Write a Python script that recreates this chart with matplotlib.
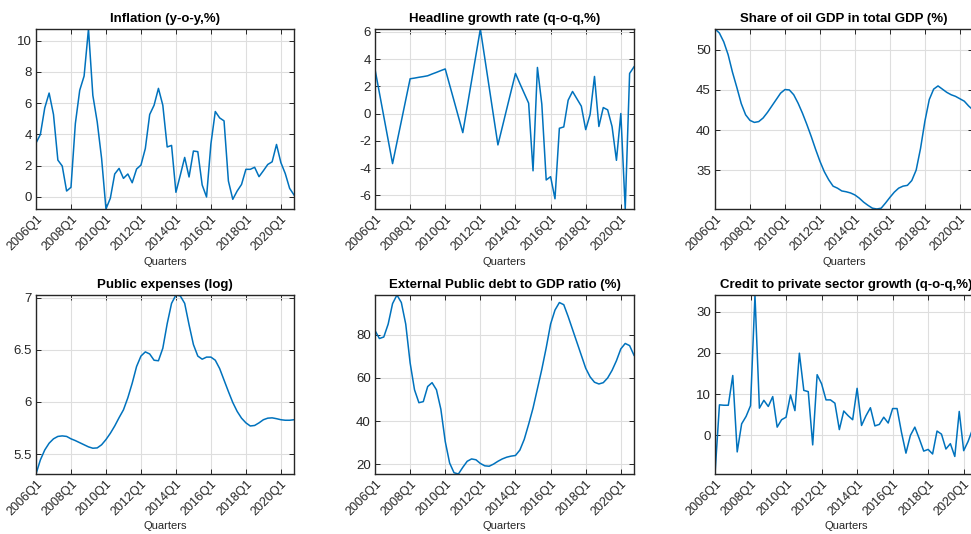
import matplotlib
matplotlib.use('Agg')
import matplotlib.pyplot as plt
from matplotlib.ticker import FuncFormatter
from matplotlib.transforms import ScaledTranslation

plt.rcParams['font.family'] = ['Liberation Sans', 'DejaVu Sans']

# ---- data ----
years = list(range(2006, 2021))
quarters = [f"{y}Q{q}" for y in years for q in (1, 2, 3, 4)]
tick_labels = ["2006Q1", "2008Q1", "2010Q1", "2012Q1", "2014Q1", "2016Q1", "2018Q1", "2020Q1"]

inflation = [3.45, 4.0, 5.7, 6.65, 5.28, 2.36, 1.98, 0.38, 0.62, 4.7,
             6.83, 7.74, 10.75, 6.5, 4.8, 2.47, -0.77, -0.08, 1.47, 1.83,
             1.19, 1.47, 0.91, 1.79, 2.04, 3.1, 5.28, 5.87, 6.95, 5.87,
             3.2, 3.3, 0.3, 1.4, 2.53, 1.28, 2.94, 2.9, 0.77, 0.0,
             3.4, 5.47, 5.06, 4.87, 1.02, -0.15, 0.38, 0.8, 1.77, 1.77,
             1.9, 1.3, 1.68, 2.08, 2.25, 3.36, 2.2, 1.5, 0.55, 0.13]

headline_growth = [3.25, 1.52, -0.21, -1.94, -3.67, -2.11, -0.56, 1.0, 2.55, 2.6,
                   2.66, 2.71, 2.77, 2.9, 3.02, 3.15, 3.27, 2.1, 0.94, -0.23,
                   -1.4, 0.5, 2.4, 4.3, 6.2, 4.08, 1.95, -0.18, -2.3, -0.99,
                   0.33, 1.64, 2.94, 2.2, 1.48, 0.76, -4.2, 3.38, 0.69, -4.87,
                   -4.63, -6.25, -1.08, -0.98, 0.98, 1.62, 1.08, 0.54, -1.18, -0.07,
                   2.72, -0.95, 0.44, 0.27, -0.95, -3.43, 0.0, -7.0, 2.94, 3.43]

oil_share = [52.6, 52.1, 51.0, 49.4, 47.2, 45.3, 43.3, 41.9, 41.2, 40.95,
             41.05, 41.5, 42.2, 43.0, 43.8, 44.6, 45.05, 45.0, 44.4, 43.35,
             42.1, 40.7, 39.2, 37.6, 36.1, 34.8, 33.8, 33.0, 32.75, 32.4,
             32.3, 32.15, 31.9, 31.5, 31.0, 30.6, 30.25, 30.15, 30.25, 30.9,
             31.6, 32.25, 32.75, 33.0, 33.1, 33.7, 35.0, 37.7, 41.1, 43.8,
             45.1, 45.5, 45.1, 44.7, 44.4, 44.2, 43.9, 43.6, 43.0, 42.5]

public_exp = [5.31, 5.445, 5.54, 5.605, 5.647, 5.67, 5.675, 5.67, 5.647, 5.63,
              5.61, 5.59, 5.57, 5.557, 5.56, 5.59, 5.64, 5.70, 5.77, 5.85,
              5.925, 6.04, 6.18, 6.34, 6.44, 6.48, 6.46, 6.40, 6.395, 6.515,
              6.75, 6.945, 7.025, 7.016, 6.945, 6.74, 6.55, 6.44, 6.41, 6.43,
              6.43, 6.40, 6.32, 6.21, 6.10, 5.995, 5.91, 5.845, 5.80, 5.77,
              5.775, 5.80, 5.83, 5.845, 5.848, 5.84, 5.83, 5.825, 5.825, 5.83]

ext_debt = [82.0, 78.3, 79.0, 85.0, 94.5, 98.5, 95.0, 85.0, 67.0, 54.5,
            48.5, 49.0, 56.0, 57.8, 54.5, 45.5, 30.5, 20.5, 16.0, 15.4,
            18.5, 21.3, 22.4, 22.0, 20.3, 19.2, 19.0, 20.0, 21.3, 22.4,
            23.2, 23.7, 24.0, 26.5, 31.5, 38.5, 46.0, 55.0, 64.0, 74.0,
            85.0, 91.5, 95.0, 94.0, 88.5, 82.5, 76.5, 70.5, 64.5, 60.5,
            58.0, 57.2, 57.8, 60.0, 63.5, 68.0, 73.5, 76.0, 75.0, 70.5]

credit_growth = [-9.35, 7.4, 7.3, 7.3, 14.5, -4.0, 2.8, 4.6, 7.2, 34.0,
                 6.6, 8.5, 7.0, 9.4, 2.0, 3.8, 4.4, 9.8, 6.0, 19.9,
                 10.9, 10.6, -2.3, 14.7, 12.5, 8.6, 8.6, 7.8, 1.4, 5.9,
                 4.75, 3.8, 11.4, 2.4, 4.75, 6.7, 2.3, 2.66, 4.4, 3.0,
                 6.5, 6.5, 0.7, -4.3, 0.0, 2.0, -0.8, -3.8, -3.4, -4.5,
                 1.05, 0.3, -3.3, -2.0, -5.1, 5.8, -3.7, -1.45, 1.5, 3.0]

titles = ["Inflation (y-o-y,%)", "Headline growth rate (q-o-q,%)",
          "Share of oil GDP in total GDP (%)", "Public expenses (log)",
          "External Public debt to GDP ratio (%)",
          "Credit to private sector growth (q-o-q,%)"]
series = [inflation, headline_growth, oil_share, public_exp, ext_debt, credit_growth]
yticks = [[0, 2, 4, 6, 8, 10], [-6, -4, -2, 0, 2, 4, 6], [35, 40, 45, 50],
          [5.5, 6, 6.5, 7], [20, 40, 60, 80], [0, 10, 20, 30]]

# ---- layout (pixels: left, top, width, height) ----
W, H = 971, 534
boxes = [(36, 29, 258, 180), (375, 29, 259, 180), (715, 29, 258, 180),
         (36, 295, 258, 179), (375, 295, 259, 179), (715, 295, 262, 179)]

fig = plt.figure(figsize=(W / 100, H / 100), dpi=100)
line_color = '#0072BD'
dark = '#262626'

xidx = list(range(len(quarters)))
tick_pos = [quarters.index(t) for t in tick_labels]
shift = ScaledTranslation(2.5 / 100, 0, fig.dpi_scale_trans)

for box, title, vals, yt in zip(boxes, titles, series, yticks):
    l, t, w, h = box
    ax = fig.add_axes([l / W, (H - t - h) / H, w / W, h / H])
    ax.plot(xidx, vals, color=line_color, lw=1.1)
    ax.set_xlim(0, len(quarters) - 1)
    ax.set_ylim(min(vals), max(vals))
    ax.set_xticks(tick_pos)
    ax.set_xticklabels(tick_labels, rotation=45, ha='right', va='top',
                       rotation_mode='anchor', fontsize=9)
    for lab in ax.get_xticklabels():
        lab.set_transform(lab.get_transform() + shift)
    ax.set_yticks(yt)
    ax.yaxis.set_major_formatter(FuncFormatter(lambda v, p: f"{v:g}"))
    ax.grid(True, color='#dedede', lw=0.8)
    ax.set_axisbelow(True)
    ax.tick_params(direction='in', top=True, right=True, length=3.5,
                   width=0.7, colors=dark, pad=3)
    ax.tick_params(axis='y', labelsize=9.5)
    for s in ax.spines.values():
        s.set_color(dark)
        s.set_linewidth(1.0)
    ax.set_title(title, fontsize=9.5, fontweight='bold', color='black', pad=5)
    ax.set_xlabel("Quarters", fontsize=8, color=dark)
    ax.xaxis.set_label_coords(0.5, -(257 - 209) / h if t < 100 else -(521 - 474) / h)

fig.savefig("out.png", dpi=100)
